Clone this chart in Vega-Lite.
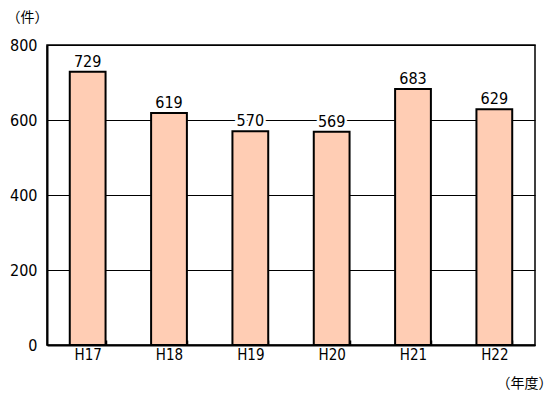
{
  "$schema": "https://vega.github.io/schema/vega-lite/v6.json",
  "width": 488,
  "height": 300,
  "autosize": {"type": "none"},
  "padding": {"left": 47, "top": 45, "right": 23, "bottom": 49},
  "background": "white",
  "config": {
    "view": {"stroke": "black", "strokeWidth": 1.5},
    "font": "DejaVu Sans Condensed, Liberation Sans, sans-serif"
  },
  "data": {
    "values": [
      {"year": "H17", "count": 729},
      {"year": "H18", "count": 619},
      {"year": "H19", "count": 570},
      {"year": "H20", "count": 569},
      {"year": "H21", "count": 683},
      {"year": "H22", "count": 629}
    ]
  },
  "encoding": {
    "x": {
      "field": "year", "type": "nominal", "sort": null,
      "scale": {"paddingInner": 0.56, "paddingOuter": 0.28},
      "axis": {
        "title": "（年度）", "titleX": 477, "titleY": 38, "titleAnchor": "middle", "titleBaseline": "middle",
        "titleFont": "Noto Sans CJK JP", "titleFontSize": 14, "titleFontWeight": "normal", "titleColor": "black",
        "labelAngle": 0, "labelFontSize": 15, "labelColor": "black", "labelPadding": 7,
        "domainColor": "black", "domainWidth": 2,
        "tickBand": "extent", "tickSize": -5, "tickColor": "black", "tickWidth": 1.5
      }
    },
    "y": {
      "field": "count", "type": "quantitative",
      "scale": {"domain": [0, 800]},
      "axis": {
        "values": [0, 200, 400, 600, 800],
        "title": "（件）", "titleAngle": 0, "titleX": -20, "titleY": -28, "titleAlign": "center", "titleBaseline": "middle",
        "titleFont": "Noto Sans CJK JP", "titleFontSize": 14, "titleFontWeight": "normal", "titleColor": "black",
        "labelFontSize": 16, "labelColor": "black", "labelPadding": 10,
        "grid": true, "gridColor": "black", "gridWidth": 1.2, "gridOpacity": 1,
        "domainColor": "black", "domainWidth": 2,
        "ticks": false
      }
    }
  },
  "layer": [
    {
      "mark": {"type": "bar", "fill": "#FFCDB4", "stroke": "black", "strokeWidth": 2}
    },
    {
      "mark": {"type": "text", "baseline": "bottom", "dy": -2, "fontSize": 16, "stroke": "white", "strokeWidth": 5, "fill": "white"},
      "encoding": {"text": {"field": "count", "type": "quantitative"}}
    },
    {
      "mark": {"type": "text", "baseline": "bottom", "dy": -2, "fontSize": 16, "fill": "black"},
      "encoding": {"text": {"field": "count", "type": "quantitative"}}
    }
  ]
}
